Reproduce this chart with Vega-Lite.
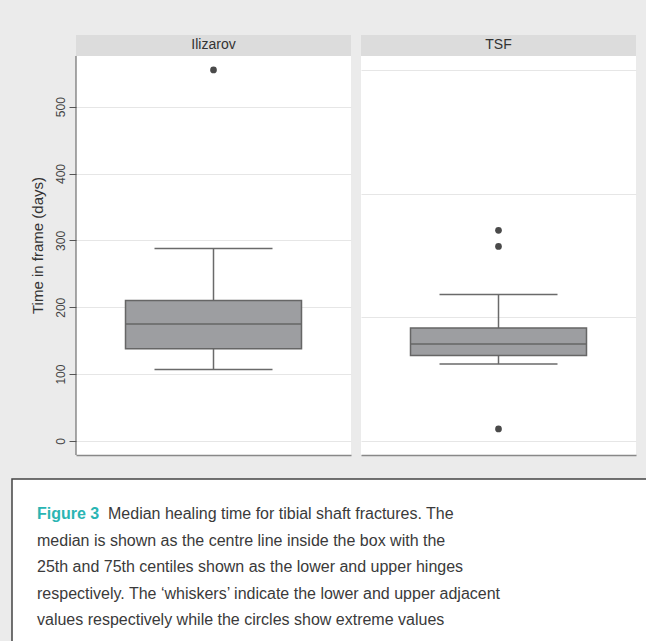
{
  "$schema": "https://vega.github.io/schema/vega-lite/v6.json",
  "background": "#ebebeb",
  "padding": {"left": 11, "top": 35, "right": 0, "bottom": 0},
  "config": {"view": {"stroke": null}, "font": "Liberation Sans"},
  "datasets": {
    "stats": [
      {"group": "Ilizarov", "lower": 107, "q1": 138, "median": 175, "q3": 210, "upper": 288},
      {"group": "TSF", "lower": 115, "q1": 128, "median": 145, "q3": 169, "upper": 219}
    ],
    "outliers": [
      {"group": "Ilizarov", "value": 555},
      {"group": "TSF", "value": 315},
      {"group": "TSF", "value": 291},
      {"group": "TSF", "value": 18}
    ],
    "caption": [
      {"line": 1, "text": "Median healing time for tibial shaft fractures. The"},
      {"line": 2, "text": "median is shown as the centre line inside the box with the"},
      {"line": 3, "text": "25th and 75th centiles shown as the lower and upper hinges"},
      {"line": 4, "text": "respectively. The ‘whiskers’ indicate the lower and upper adjacent"},
      {"line": 5, "text": "values respectively while the circles show extreme values"}
    ],
    "label": [{"line": 1, "text": "Figure 3"}]
  },
  "vconcat": [
    {
      "hconcat": [
        {
          "width": 8, "height": 420,
          "view": {"fill": "#ebebeb", "stroke": null},
          "data": {"values": []},
          "mark": "text",
          "encoding": {}
        },
        {
          "width": 275, "height": 420,
          "view": {"fill": "white", "stroke": null},
          "layer": [
            {
              "data": {"name": "stats"},
              "transform": [{"filter": "datum.group == 'Ilizarov'"}],
              "mark": {"type": "bar", "color": "#dcdcdc", "width": {"band": 1}},
              "encoding": {
                "x": {"field": "group", "type": "nominal", "scale": {"paddingInner": 0, "paddingOuter": 0}, "axis": {"title": null, "labels": false, "ticks": false, "domain": true, "domainColor": "#888888", "domainWidth": 1.5, "grid": false}},
                "y": {"datum": 575.8, "type": "quantitative", "scale": {"domain": [-21, 607.2], "nice": false, "zero": false}, "axis": {"values": [0, 100, 200, 300, 400, 500], "grid": true, "gridColor": "#e6e6e6", "domain": false, "ticks": true, "tickSize": 7, "tickColor": "#555555", "labelAngle": -90, "labelFontSize": 12, "labelColor": "#444444", "labelPadding": 2, "title": "Time in frame (days)", "titleFontSize": 15, "titleFontWeight": "normal", "titleColor": "#333333", "titlePadding": 9}},
                "y2": {"datum": 607.2}
              }
            },
            {
              "data": {"name": "stats"},
              "transform": [{"filter": "datum.group == 'Ilizarov'"}],
              "mark": {"type": "text", "fontSize": 14, "color": "#333333", "baseline": "middle"},
              "encoding": {
                "x": {"field": "group", "type": "nominal"},
                "y": {"datum": 591.5, "type": "quantitative"},
                "text": {"field": "group"}
              }
            },
            {
              "data": {"name": "stats"},
              "transform": [{"filter": "datum.group == 'Ilizarov'"}],
              "mark": {"type": "rule", "color": "#555555", "strokeWidth": 1},
              "encoding": {
                "x": {"field": "group", "type": "nominal", "bandPosition": 0},
                "y": {"datum": -21, "type": "quantitative"},
                "y2": {"datum": 575.8}
              }
            },
            {
              "data": {"name": "stats"},
              "transform": [{"filter": "datum.group == 'Ilizarov'"}],
              "mark": {"type": "rule", "color": "#6a6a6a", "strokeWidth": 1.5},
              "encoding": {
                "x": {"field": "group", "type": "nominal"},
                "y": {"field": "lower", "type": "quantitative"},
                "y2": {"field": "upper"}
              }
            },
            {
              "data": {"name": "stats"},
              "transform": [{"filter": "datum.group == 'Ilizarov'"}],
              "mark": {"type": "bar", "width": 176, "color": "#9d9ea1", "stroke": "#666666", "strokeWidth": 1.5},
              "encoding": {
                "x": {"field": "group", "type": "nominal"},
                "y": {"field": "q1", "type": "quantitative"},
                "y2": {"field": "q3"}
              }
            },
            {
              "data": {"name": "stats"},
              "transform": [{"filter": "datum.group == 'Ilizarov'"}],
              "mark": {"type": "tick", "size": 176, "thickness": 1.5, "color": "#666666", "opacity": 1},
              "encoding": {
                "x": {"field": "group", "type": "nominal"},
                "y": {"field": "median", "type": "quantitative"}
              }
            },
            {
              "data": {"name": "stats"},
              "transform": [{"filter": "datum.group == 'Ilizarov'"}],
              "mark": {"type": "tick", "size": 118, "thickness": 1.5, "color": "#6a6a6a", "opacity": 1},
              "encoding": {
                "x": {"field": "group", "type": "nominal"},
                "y": {"field": "lower", "type": "quantitative"}
              }
            },
            {
              "data": {"name": "stats"},
              "transform": [{"filter": "datum.group == 'Ilizarov'"}],
              "mark": {"type": "tick", "size": 118, "thickness": 1.5, "color": "#6a6a6a", "opacity": 1},
              "encoding": {
                "x": {"field": "group", "type": "nominal"},
                "y": {"field": "upper", "type": "quantitative"}
              }
            },
            {
              "data": {"name": "outliers"},
              "transform": [{"filter": "datum.group == 'Ilizarov'"}],
              "mark": {"type": "point", "filled": true, "size": 45, "color": "#4a4a4a", "opacity": 1},
              "encoding": {
                "x": {"field": "group", "type": "nominal"},
                "y": {"field": "value", "type": "quantitative"}
              }
            }
          ]
        },
        {
          "width": 275, "height": 420,
          "view": {"fill": "white", "stroke": null},
          "layer": [
            {
              "data": {"name": "stats"},
              "transform": [{"filter": "datum.group == 'TSF'"}],
              "mark": {"type": "bar", "color": "#dcdcdc", "width": {"band": 1}},
              "encoding": {
                "x": {"field": "group", "type": "nominal", "scale": {"paddingInner": 0, "paddingOuter": 0}, "axis": {"title": null, "labels": false, "ticks": false, "domain": true, "domainColor": "#888888", "domainWidth": 1.5, "grid": false}},
                "y": {"datum": 575.8, "type": "quantitative", "scale": {"domain": [-21, 607.2], "nice": false, "zero": false}, "axis": {"values": [0, 185, 370, 555], "grid": true, "gridColor": "#e6e6e6", "domain": false, "ticks": false, "labels": false, "title": null}},
                "y2": {"datum": 607.2}
              }
            },
            {
              "data": {"name": "stats"},
              "transform": [{"filter": "datum.group == 'TSF'"}],
              "mark": {"type": "text", "fontSize": 14, "color": "#333333", "baseline": "middle"},
              "encoding": {
                "x": {"field": "group", "type": "nominal"},
                "y": {"datum": 591.5, "type": "quantitative"},
                "text": {"field": "group"}
              }
            },
            {
              "data": {"name": "stats"},
              "transform": [{"filter": "datum.group == 'TSF'"}],
              "mark": {"type": "rule", "color": "#6a6a6a", "strokeWidth": 1.5},
              "encoding": {
                "x": {"field": "group", "type": "nominal"},
                "y": {"field": "lower", "type": "quantitative"},
                "y2": {"field": "upper"}
              }
            },
            {
              "data": {"name": "stats"},
              "transform": [{"filter": "datum.group == 'TSF'"}],
              "mark": {"type": "bar", "width": 176, "color": "#9d9ea1", "stroke": "#666666", "strokeWidth": 1.5},
              "encoding": {
                "x": {"field": "group", "type": "nominal"},
                "y": {"field": "q1", "type": "quantitative"},
                "y2": {"field": "q3"}
              }
            },
            {
              "data": {"name": "stats"},
              "transform": [{"filter": "datum.group == 'TSF'"}],
              "mark": {"type": "tick", "size": 176, "thickness": 1.5, "color": "#666666", "opacity": 1},
              "encoding": {
                "x": {"field": "group", "type": "nominal"},
                "y": {"field": "median", "type": "quantitative"}
              }
            },
            {
              "data": {"name": "stats"},
              "transform": [{"filter": "datum.group == 'TSF'"}],
              "mark": {"type": "tick", "size": 118, "thickness": 1.5, "color": "#6a6a6a", "opacity": 1},
              "encoding": {
                "x": {"field": "group", "type": "nominal"},
                "y": {"field": "lower", "type": "quantitative"}
              }
            },
            {
              "data": {"name": "stats"},
              "transform": [{"filter": "datum.group == 'TSF'"}],
              "mark": {"type": "tick", "size": 118, "thickness": 1.5, "color": "#6a6a6a", "opacity": 1},
              "encoding": {
                "x": {"field": "group", "type": "nominal"},
                "y": {"field": "upper", "type": "quantitative"}
              }
            },
            {
              "data": {"name": "outliers"},
              "transform": [{"filter": "datum.group == 'TSF'"}],
              "mark": {"type": "point", "filled": true, "size": 45, "color": "#4a4a4a", "opacity": 1},
              "encoding": {
                "x": {"field": "group", "type": "nominal"},
                "y": {"field": "value", "type": "quantitative"}
              }
            }
          ]
        }
      ],
      "spacing": 10
    },
    {
      "width": 636, "height": 170,
      "view": {"fill": "white", "stroke": "#444444", "strokeWidth": 1.5},
      "layer": [
        {
          "data": {"name": "label"},
          "mark": {"type": "text", "align": "left", "baseline": "middle", "x": 25, "fontSize": 16, "fontWeight": "bold", "color": "#2ab5b3"},
          "encoding": {
            "y": {"field": "line", "type": "ordinal", "scale": {"type": "point", "domain": [1, 2, 3, 4, 5], "range": [35, 141], "padding": 0}, "axis": null},
            "text": {"field": "text"}
          }
        },
        {
          "data": {"name": "caption"},
          "transform": [{"filter": "datum.line == 1"}],
          "mark": {"type": "text", "align": "left", "baseline": "middle", "x": 25, "dx": 71, "fontSize": 16, "color": "#3a3a3a"},
          "encoding": {
            "y": {"field": "line", "type": "ordinal", "scale": {"type": "point", "domain": [1, 2, 3, 4, 5], "range": [35, 141], "padding": 0}, "axis": null},
            "text": {"field": "text"}
          }
        },
        {
          "data": {"name": "caption"},
          "transform": [{"filter": "datum.line > 1"}],
          "mark": {"type": "text", "align": "left", "baseline": "middle", "x": 25, "fontSize": 16, "color": "#3a3a3a"},
          "encoding": {
            "y": {"field": "line", "type": "ordinal", "scale": {"type": "point", "domain": [1, 2, 3, 4, 5], "range": [35, 141], "padding": 0}, "axis": null},
            "text": {"field": "text"}
          }
        }
      ]
    }
  ],
  "spacing": 22
}
